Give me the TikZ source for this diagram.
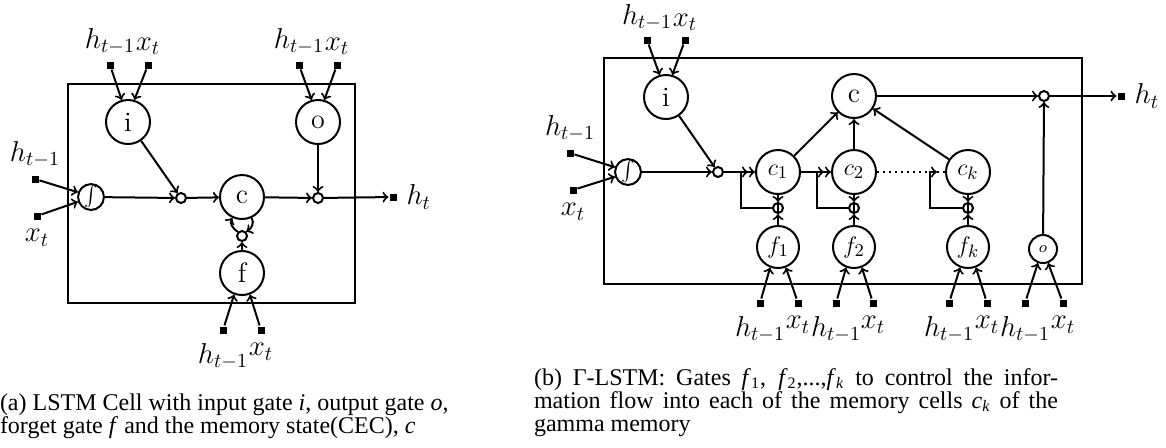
\documentclass[tikz,border=0pt]{standalone}
\usepackage{fontspec}
\newfontfamily\capfont{Liberation Serif}
\usetikzlibrary{positioning}
\begin{document}
\begin{tikzpicture}[x=0.5pt,y=-0.5pt,line width=1pt,
  gate/.style={circle,draw,minimum size=22pt,inner sep=0pt,font=\fontsize{14}{14}\selectfont},
  mgate/.style={gate,minimum size=22pt,font=\fontsize{13}{13}\selectfont},
  sgate/.style={circle,draw,minimum size=14pt,inner sep=0pt,font=\fontsize{8.5}{8.5}\selectfont},
  mult/.style={circle,draw,minimum size=5pt,inner sep=0pt},
  intg/.style={circle,draw,minimum size=12.5pt,inner sep=0pt,font=\fontsize{10}{10}\selectfont},
  term/.style={rectangle,fill,minimum size=3.5pt,inner sep=0pt},
  lab/.style={inner sep=1pt,font=\fontsize{14.2}{14.2}\selectfont},
  captext/.style={anchor=base west,inner sep=0pt,font=\capfont\fontsize{12}{11.75}\selectfont}
]
\useasboundingbox (0,0) rectangle (1166,447);

% ================= (a) =================
\draw (68,84) rectangle (355,303);
\node[gate] (ia) at (128,122) {i};
\node[gate] (oa) at (318,122) {o};
\node[intg] (sa) at (91,197) {$\int$};
\node[mult] (m1a) at (181,198) {};
\node[gate] (ca) at (242,197) {c};
\node[mult] (m2a) at (318,198) {};
\node[term] (hta) at (393,197) {};
\node[lab,right=3pt of hta] (lhta) {$h_t$};
\node[mult] (m3a) at (242,236) {};
\node[gate] (fa) at (242,273) {f};

\node[term] (ia1) at (110,65) {};
\node[term] (ia2) at (148,65) {};
\node[lab,above=1.5pt of ia1] (lia1) {$h_{t-1}$};
\node[lab,above=1.5pt of ia2] (lia2) {$x_t$};
\node[term] (oa1) at (299,65) {};
\node[term] (oa2) at (337,65) {};
\node[lab,above=1.5pt of oa1] (loa1) {$h_{t-1}$};
\node[lab,above=1.5pt of oa2] (loa2) {$x_t$};
\node[term] (sa1) at (35,179) {};
\node[term] (sa2) at (37,216) {};
\node[lab,above=2pt of sa1] (lsa1) {$h_{t-1}$};
\node[lab,below=3pt of sa2] (lsa2) {$x_t$};
\node[term] (fa1) at (223,330) {};
\node[term] (fa2) at (261,330) {};
\node[lab,below=3pt of fa1] (lfa1) {$h_{t-1}$};
\node[lab,below=3pt of fa2] (lfa2) {$x_t$};

\draw[->] (ia1) -- (ia.106);
\draw[->] (ia2) -- (ia.74);
\draw[->] (oa1) -- (oa.106);
\draw[->] (oa2) -- (oa.74);
\draw[->] (sa1) -- (sa.160);
\draw[->] (sa2) -- (sa.200);
\draw[->] (fa1) -- (fa.-110);
\draw[->] (fa2) -- (fa.-70);
\draw[->] (ia) -- (m1a);
\draw[->] (sa) -- (m1a);
\draw[->] (m1a) -- (ca);
\draw[->] (ca) -- (m2a);
\draw[->] (oa) -- (m2a);
\draw[->] (m2a) -- (hta);
\draw[->] (fa) -- (m3a);
\draw[->] (m3a.north west) to[out=150,in=-120] (ca.-115);
\draw[->] (ca.-65) to[out=-60,in=30] (m3a.north east);

% ================= (b) =================
\draw (604,58) rectangle (1082,284);
\node[gate] (ib) at (666,97) {i};
\node[intg] (sb) at (628,172) {$\int$};
\node[mult] (mb) at (718,172) {};
\node[mgate] (c1) at (778,172) {$c_1$};
\node[mgate] (c2) at (854,172) {$c_2$};
\node[mgate] (ck) at (968,172) {$c_k$};
\node[gate] (cb) at (854,96) {c};
\node[mult] (ob) at (1044,96) {};
\node[term] (htb) at (1121,96) {};
\node[lab,right=3pt of htb] (lhtb) {$h_t$};
\node[mult] (g1) at (778,208) {};
\node[mult] (g2) at (854,208) {};
\node[mult] (gk) at (968,208) {};
\node[mgate,minimum size=21pt] (f1) at (778,247) {$f_1$};
\node[mgate,minimum size=21pt] (f2) at (854,247) {$f_2$};
\node[mgate,minimum size=21pt] (fk) at (968,247) {$f_k$};
\node[sgate] (og) at (1043,249) {$o$};

\coordinate (l1) at (741,172);
\coordinate (l2) at (817,172);
\coordinate (lk) at (930,172);
\coordinate (t1) at (748,172);
\coordinate (t2) at (824,172);
\coordinate (tk) at (937,172);

\node[term] (ib1) at (647,40) {};
\node[term] (ib2) at (685,40) {};
\node[lab,above=1pt of ib1] (lib1) {$h_{t-1}$};
\node[lab,above=1pt of ib2] (lib2) {$x_t$};
\node[term] (sb1) at (570,153) {};
\node[term] (sb2) at (573,190) {};
\node[lab,above=2pt of sb1] (lsb1) {$h_{t-1}$};
\node[lab,below=3pt of sb2] (lsb2) {$x_t$};
\node[term] (f1a) at (760,303) {};
\node[term] (f1b) at (798,303) {};
\node[term] (f2a) at (836,303) {};
\node[term] (f2b) at (873,303) {};
\node[term] (fka) at (949,303) {};
\node[term] (fkb) at (987,303) {};
\node[term] (oga) at (1025,303) {};
\node[term] (ogb) at (1063,303) {};
\node[lab,below=3pt of f1a] (lf1a) {$h_{t-1}$};
\node[lab,below=3pt of f1b] (lf1b) {$x_t$};
\node[lab,below=3pt of f2a] (lf2a) {$h_{t-1}$};
\node[lab,below=3pt of f2b] (lf2b) {$x_t$};
\node[lab,below=3pt of fka] (lfka) {$h_{t-1}$};
\node[lab,below=3pt of fkb] (lfkb) {$x_t$};
\node[lab,below=3pt of oga] (loga) {$h_{t-1}$};
\node[lab,below=3pt of ogb] (logb) {$x_t$};

\draw[->] (ib1) -- (ib.106);
\draw[->] (ib2) -- (ib.74);
\draw[->] (sb1) -- (sb.160);
\draw[->] (sb2) -- (sb.200);
\draw[->] (f1a) -- (f1.-111);
\draw[->] (f1b) -- (f1.-69);
\draw[->] (f2a) -- (f2.-111);
\draw[->] (f2b) -- (f2.-69);
\draw[->] (fka) -- (fk.-111);
\draw[->] (fkb) -- (fk.-69);
\draw[->] (oga) -- (og.-110);
\draw[->] (ogb) -- (og.-70);

\draw[->] (ib) -- (mb);
\draw[->] (sb) -- (mb);
\draw[->] (mb) -- (c1);
\draw[->] (c1) -- (c2);
\draw[dotted] (c2) -- (ck);
\draw[->] (c1) -- (cb);
\draw[->] (c2) -- (cb);
\draw[->] (ck) -- (cb);
\draw[->] (cb) -- (ob);
\draw[->] (og) -- (ob);
\draw[->] (ob) -- (htb);

\draw[->] (c1) -- (g1);
\draw[->] (f1) -- (g1);
\draw (g1.north) -- (g1.south);
\draw[->] (c2) -- (g2);
\draw[->] (f2) -- (g2);
\draw (g2.north) -- (g2.south);
\draw[->] (ck) -- (gk);
\draw[->] (fk) -- (gk);
\draw (gk.north) -- (gk.south);

\draw[->] (g1.west) -| (l1) -- (t1);
\draw[->] (g2.west) -| (l2) -- (t2);
\draw[->] (gk.west) -| (lk) -- (tk);

% ================= captions =================
\node[captext] (capa1) at (-1,410) {(a) LSTM Cell with input gate \textit{i}, output gate \textit{o},};
\node[captext] (capa2) at (-1,433) {forget gate \textit{f} and the memory state(CEC), \textit{c}};
\node[captext] (capb1) at (533,385) {\makebox[262pt][s]{(b) Γ-LSTM: Gates \textit{f}\textsubscript{1}, \textit{f}\textsubscript{2},...,\textit{f}\textsubscript{\textit{k}} to control the infor-}};
\node[captext] (capb2) at (533,408) {\makebox[262pt][s]{mation flow into each of the memory cells \textit{c}\textsubscript{\textit{k}} of the}};
\node[captext] (capb3) at (533,431) {gamma memory};
\end{tikzpicture}
\end{document}
